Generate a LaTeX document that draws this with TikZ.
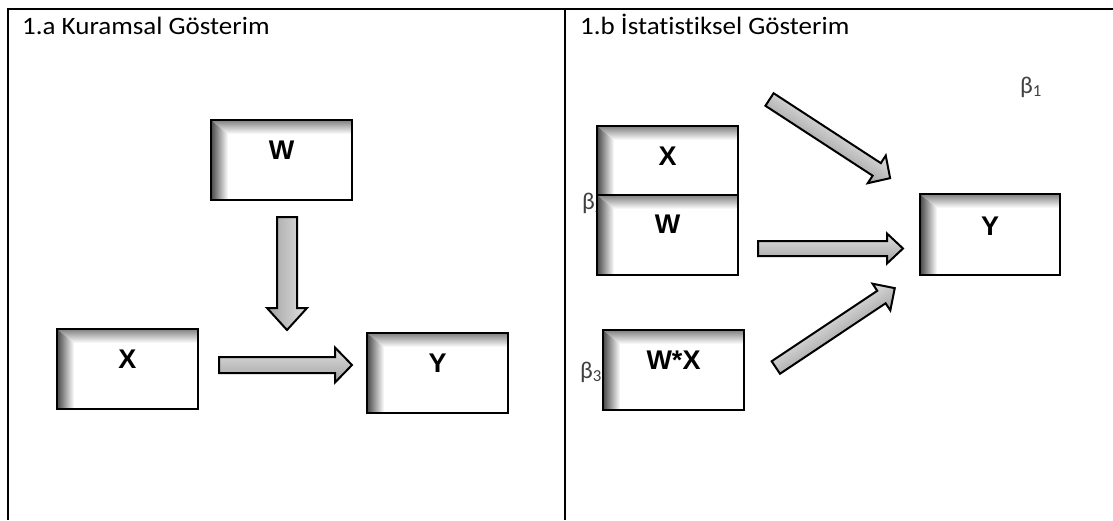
\documentclass[tikz,border=0pt]{standalone}
\usepackage{fontspec}
\setmainfont{Carlito}
\newfontfamily\titlefont[FakeStretch=1.08,Ligatures=NoCommon]{Carlito}
\newfontfamily\labelfont{Liberation Sans}
\usetikzlibrary{calc}
\tikzset{
  frameline/.style={line width=2.2pt, black},
  titletext/.style={anchor=base west, inner sep=0, font=\titlefont\fontsize{25}{25}\selectfont},
  betatext/.style={anchor=base west, inner sep=0, text=black!75, font=\fontsize{24}{24}\selectfont},
  boxlabel/.style={anchor=base, inner sep=0, font=\labelfont\bfseries\fontsize{27}{27}\selectfont},
  shbox/.style={draw=black, line width=2.5pt, fill=white, rectangle, inner sep=0,
    minimum width=141pt, minimum height=80pt,
    path picture={
      \coordinate (pnw) at (path picture bounding box.north west);
      \coordinate (pne) at (path picture bounding box.north east);
      \coordinate (psw) at (path picture bounding box.south west);
      \shade[top color=black!50, bottom color=white]
        (pnw) -- (pne) -- ([yshift=-14pt]pne) -- ([xshift=17pt,yshift=-14pt]pnw) -- cycle;
      \shade[left color=black!72, right color=white]
        (pnw) -- ([xshift=17pt,yshift=-14pt]pnw) -- ([xshift=17pt]psw) -- (psw) -- cycle;
    }},
  arrowbody/.style={draw=black, line width=2pt, line join=miter,
    top color=gray!25, middle color=white!92!black, bottom color=gray!72},
}
% #1 tail coordinate, #2 rotation, #3 length, #4 shaft half width, #5 head half width, #6 head length
\newcommand{\blockarr}[6]{%
  \begin{scope}[transform canvas={shift={(#1)},rotate=#2}]
    \filldraw[arrowbody] (0,-#4) -- ({#3-#6},-#4) -- ({#3-#6},-#5) -- (#3,0)
      -- ({#3-#6},#5) -- ({#3-#6},#4) -- (0,#4) -- cycle;
  \end{scope}}
\begin{document}
\begin{tikzpicture}[x=1pt,y=-1pt]
\useasboundingbox (0,0) rectangle (1113,520);
% frame
\draw[frameline] (7.8,520) -- (7.8,8.7) -- (1113,8.7);
\draw[frameline] (564.8,8.7) -- (564.8,520);
% titles
\node[titletext] (ta) at (22,34) {1.a Kuramsal Gösterim};
\node[titletext] (tb) at (580,34) {1.b İstatistiksel Gösterim};
% beta labels (behind boxes)
\node[betatext] (b1) at (1020,93) {β\textsubscript{1}};
\node[betatext] (b2) at (582,209) {β\textsubscript{2}};
\node[betatext] (b3) at (580,378) {β\textsubscript{3}};
% left panel boxes
\node[shbox] (lw) at (281.5,160) {};
\node[shbox] (lx) at (127.5,369) {};
\node[shbox] (ly) at (437.5,373) {};
\node[boxlabel] (lwt) at ($(lw.north)+(0,41)$) {W};
\node[boxlabel] (lxt) at ($(lx.north)+(0,41)$) {X};
\node[boxlabel] (lyt) at ($(ly.north)+(0,41)$) {Y};
% right panel boxes
\node[shbox, minimum height=69pt] (rx) at (667.5,160.5) {};
\node[shbox] (rw) at (667.5,235) {};
\node[shbox] (rwx) at (673.5,370) {};
\node[shbox, minimum width=140pt, minimum height=81pt] (ry) at (990,234.5) {};
\node[boxlabel] (rxt) at ($(rx.north)+(0,41)$) {X};
\node[boxlabel] (rwt) at ($(rw.north)+(0,39.5)$) {W};
\node[boxlabel] (rwxt) at ($(rwx.north)+(0,41)$) {W*X};
\node[boxlabel] (ryt) at ($(ry.north)+(0,42.5)$) {Y};
% arrow tails
\coordinate (la1) at (287,217);
\coordinate (la2) at (219,365);
\coordinate (ra1) at (769.5,99.5);
\coordinate (ra2) at (758,248.5);
\coordinate (ra3) at (775.8,367.5);
\blockarr{la1}{-90}{113}{10}{20}{22}
\blockarr{la2}{0}{133}{8}{17.5}{17}
\blockarr{ra1}{-33.1}{144}{7.5}{16.5}{16}
\blockarr{ra2}{0}{145}{7.5}{15}{16}
\blockarr{ra3}{33.7}{143}{7.5}{16}{16}
\end{tikzpicture}
\end{document}
